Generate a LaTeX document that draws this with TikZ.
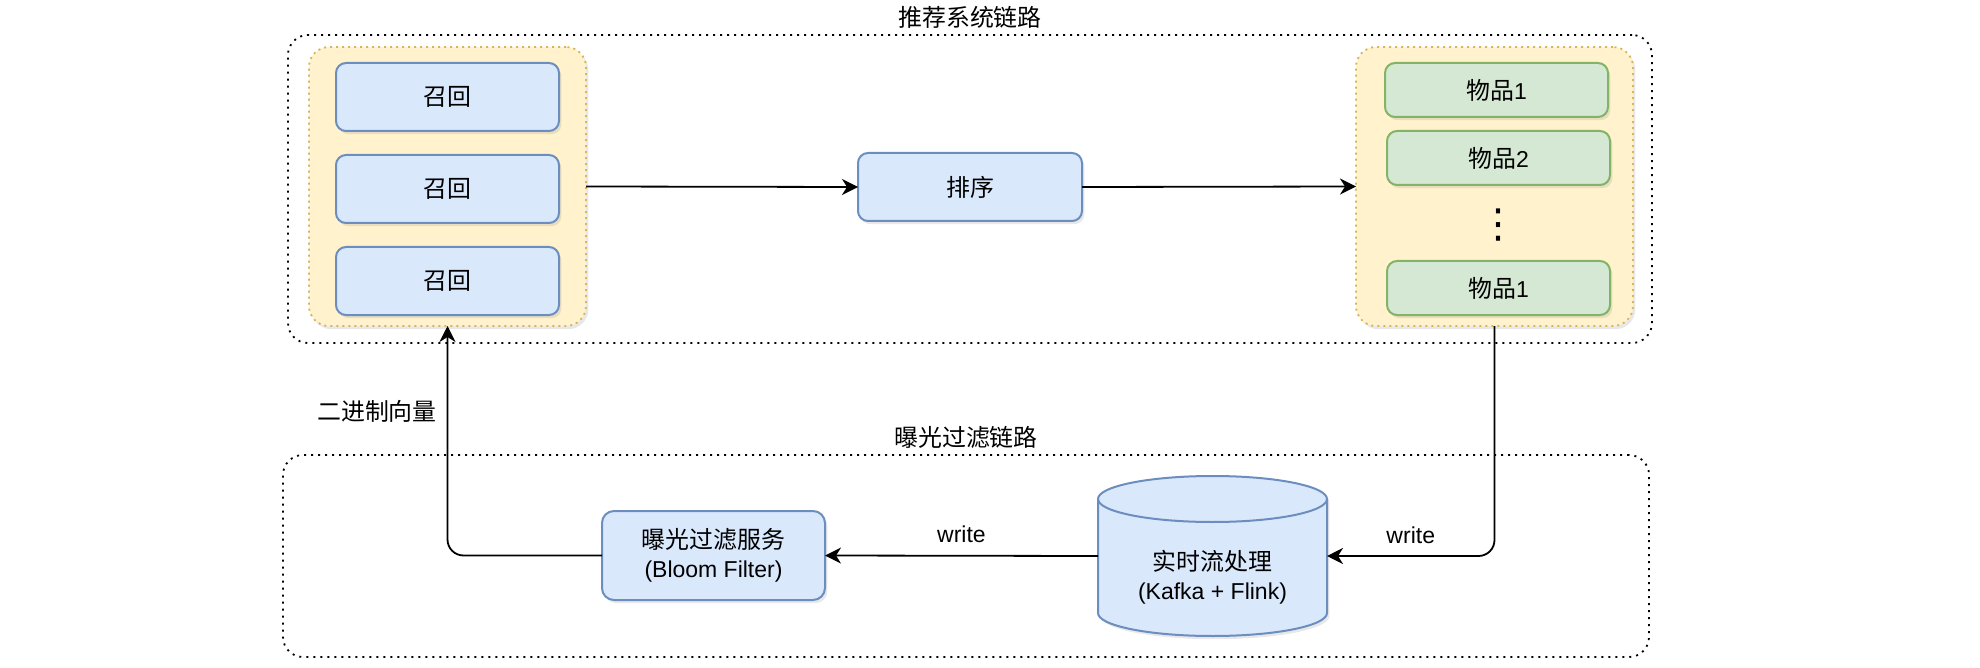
\documentclass[tikz,border=0pt]{standalone}
\usepackage{fontspec}
\setmainfont{Liberation Sans}
\newfontfamily\cjk[Scale=1.04]{Noto Sans CJK SC}
\newfontfamily\symfont{DejaVu Sans}
\usepackage{xcolor}
\definecolor{BoxBlue}{HTML}{DAE8FC}
\definecolor{LineBlue}{HTML}{6C8EBF}
\definecolor{BoxGreen}{HTML}{D5E8D4}
\definecolor{LineGreen}{HTML}{82B366}
\definecolor{GroupYellow}{HTML}{FFF2CC}
\definecolor{LineYellow}{HTML}{D6B656}
\usepackage{tikz}
\usetikzlibrary{arrows.meta, positioning, shadows}

\begin{document}
\begin{tikzpicture}[
        x=0.5pt, y=-0.5pt,
        every node/.style={outer sep=0pt},
        txt/.style={font=\fontsize{11.5}{14.5}\selectfont},
        softshadow/.style={drop shadow={opacity=0.18, shadow xshift=1.2pt, shadow yshift=-1.6pt}},
        chain/.style={rectangle, draw, line width=0.9pt, dash pattern=on 1pt off 2.5pt, rounded corners=10pt},
        group/.style={rectangle, draw=LineYellow, fill=GroupYellow, line width=0.9pt, dash pattern=on 1pt off 2pt, rounded corners=10pt, minimum width=138.5pt, minimum height=139.5pt, softshadow},
        bluebox/.style={rectangle, draw=LineBlue, fill=BoxBlue, line width=1pt, rounded corners=5pt, minimum width=111.5pt, minimum height=34pt, align=center, txt, softshadow},
        itembox/.style={bluebox, draw=LineGreen, fill=BoxGreen, minimum height=27pt},
        arrow/.style={-{Stealth[length=8pt, width=8pt, inset=2.5pt]}, line width=0.9pt}
    ]
        \useasboundingbox (0,0) rectangle (1980,668);

        % Containers
        \node[chain, minimum width=682pt, minimum height=154pt] (sysbox) at (970,189) {};
        \node[chain, minimum width=683pt, minimum height=101pt] (expbox) at (966,556) {};
        \node[txt, above=0pt of sysbox] (systitle) {\cjk 推荐系统链路};
        \node[txt, above=0pt of expbox] (exptitle) {\cjk 曝光过滤链路};

        % Recommendation chain
        \node[group] (lgroup) at (447.5,186.5) {};
        \node[group] (rgroup) at (1494.5,186.5) {};
        \node[bluebox] (recall1) at (447.5,97) {\cjk 召回};
        \node[bluebox, below=12pt of recall1] (recall2) {\cjk 召回};
        \node[bluebox, below=12pt of recall2] (recall3) {\cjk 召回};
        \node[bluebox, minimum width=112pt] (sort) at (970,187) {\cjk 排序};
        \node[itembox] (item1) at (1496.5,90) {{\cjk 物品}1};
        \node[itembox, below=7pt of item1, xshift=1pt] (item2) {{\cjk 物品}2};
        \node[font=\symfont\fontsize{20}{20}\selectfont, inner sep=0pt] (more) at (1498,225) {⋮};
        \node[itembox] (item3) at (1498.5,288) {{\cjk 物品}1};

        % Exposure filter chain
        \node[bluebox, minimum height=44.5pt, rounded corners=6pt] (bloom) at (713.5,555.5) {{\cjk 曝光过滤服务}\\(Bloom Filter)};
        \node[minimum width=114.5pt, minimum height=80pt] (kafka) at (1212.5,556) {};
        \path[fill=BoxBlue, draw=LineBlue, line width=1pt, softshadow]
            ([yshift=-11.5pt]kafka.north west) -- ([yshift=11.5pt]kafka.south west)
            arc[start angle=180, end angle=360, x radius=57.25pt, y radius=11.5pt]
            -- ([yshift=-11.5pt]kafka.north east)
            arc[start angle=0, end angle=180, x radius=57.25pt, y radius=11.5pt] -- cycle;
        \draw[LineBlue, line width=1pt] ([yshift=-11.5pt]kafka.north west)
            arc[start angle=180, end angle=360, x radius=57.25pt, y radius=11.5pt];
        \node[txt, align=center] (kafkatxt) at ([yshift=-10.5pt]kafka.center) {{\cjk 实时流处理}\\(Kafka + Flink)};

        % Arrows
        \draw[arrow] (lgroup.east) -- (sort.west);
        \draw[arrow] (sort.east) -- (rgroup.west);
        \draw[arrow, rounded corners=8pt] (rgroup.south) |- node[txt, above=3pt, pos=0.75] (write2) {write} (kafka.east);
        \draw[arrow] (kafka.west) -- node[txt, above=3pt, pos=0.5] (write1) {write} (bloom.east);
        \draw[arrow, rounded corners=8pt] (bloom.west) -| (lgroup.south);
        \node[txt] (binlabel) at (377,411) {\cjk 二进制向量};
    \end{tikzpicture}
\end{document}
